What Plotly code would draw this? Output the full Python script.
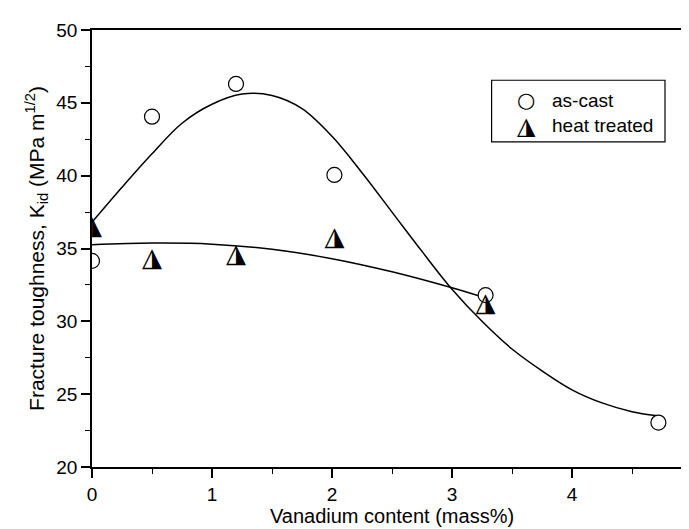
import plotly.graph_objects as go

# measured data
vanadium_cast = [0.0, 0.5, 1.2, 2.02, 3.28, 4.72]
k_cast = [34.15, 44.05, 46.3, 40.05, 31.8, 23.05]
vanadium_heat = [0.0, 0.5, 1.2, 2.02, 3.28]
k_heat = [36.45, 34.25, 34.5, 35.7, 31.15]

# fitted curves
fit_cast_x = [0.0, 0.25, 0.5, 0.75, 1.0, 1.25, 1.5, 1.75, 2.0, 2.25, 2.5, 2.75, 3.0, 3.25, 3.5, 3.75, 4.0, 4.25, 4.5, 4.73]
fit_cast_y = [36.8, 39.2, 41.5, 43.6, 44.9, 45.6, 45.5, 44.6, 42.7, 40.2, 37.5, 34.8, 32.2, 30.0, 28.1, 26.6, 25.3, 24.4, 23.8, 23.5]
fit_heat_x = [0.0, 0.5, 1.0, 1.5, 2.0, 2.5, 3.0, 3.28]
fit_heat_y = [35.25, 35.37, 35.3, 34.95, 34.3, 33.4, 32.3, 31.6]

x_ticks = [0, 1, 2, 3, 4, 5]
y_ticks = [20, 25, 30, 35, 40, 45, 50]

FONT = "Liberation Sans, Arial, sans-serif"
TRI = "\u25EE"

fig = go.Figure()
fig.add_trace(go.Scatter(x=fit_cast_x, y=fit_cast_y, mode="lines",
                         line=dict(color="black", width=1.5, shape="spline", smoothing=1.0),
                         showlegend=False, hoverinfo="skip"))
fig.add_trace(go.Scatter(x=fit_heat_x, y=fit_heat_y, mode="lines",
                         line=dict(color="black", width=1.5, shape="spline", smoothing=1.0),
                         showlegend=False, hoverinfo="skip"))
fig.add_trace(go.Scatter(x=vanadium_cast, y=k_cast, mode="markers", name="as-cast",
                         marker=dict(symbol="circle", size=15, color="white",
                                     line=dict(color="black", width=1.2)),
                         cliponaxis=True, showlegend=False))
fig.add_trace(go.Scatter(x=vanadium_heat, y=k_heat, mode="text", name="heat treated",
                         text=[TRI] * len(vanadium_heat), textposition="middle center",
                         textfont=dict(family="DejaVu Sans", size=26, color="black"),
                         cliponaxis=True, showlegend=False))

# legend box (manual)
fig.add_shape(type="rect", xref="paper", yref="paper", x0=0.666, x1=0.955, y0=0.744, y1=0.885,
              line=dict(color="black", width=1.2), fillcolor="white", layer="above")
legend_items = [("\u25CB", "as-cast", 0.839), (TRI, "heat treated", 0.781)]
for sym, label, yy in legend_items:
    fig.add_annotation(xref="paper", yref="paper", x=0.724, y=yy, text=sym, showarrow=False,
                       font=dict(family="DejaVu Sans", size=21 if sym == "\u25CB" else 24, color="black"),
                       xanchor="center", yanchor="middle")
    fig.add_annotation(xref="paper", yref="paper", x=0.763, y=yy, text=label, showarrow=False,
                       font=dict(family=FONT, size=19, color="black"),
                       xanchor="left", yanchor="middle")

axis_common = dict(showgrid=False, zeroline=False, showline=True, linecolor="black", linewidth=1.6,
                   mirror=True, ticks="outside", ticklen=9, tickwidth=1.6, tickcolor="black",
                   tickfont=dict(family=FONT, size=19, color="black"))
fig.update_xaxes(range=[0, 5], tickvals=x_ticks, ticktext=[str(v) for v in x_ticks],
                 minor=dict(dtick=0.5, ticks="outside", ticklen=5, tickwidth=1.4, tickcolor="black"),
                 title=dict(text="Vanadium content (mass%)", font=dict(family=FONT, size=20, color="black"),
                            standoff=2),
                 **axis_common)
fig.update_yaxes(range=[20, 50], tickvals=y_ticks, ticktext=[str(v) for v in y_ticks],
                 minor=dict(dtick=2.5, ticks="outside", ticklen=5, tickwidth=1.4, tickcolor="black"),
                 title=dict(text="Fracture toughness, K<sub>id</sub> (MPa m<sup>1/2</sup>)",
                            font=dict(family=FONT, size=21, color="black"), standoff=6),
                 **axis_common)
fig.update_layout(width=689, height=529, margin=dict(l=84, r=3, t=22, b=70),
                  plot_bgcolor="white", paper_bgcolor="white", showlegend=False)
fig.write_html("out.html")
